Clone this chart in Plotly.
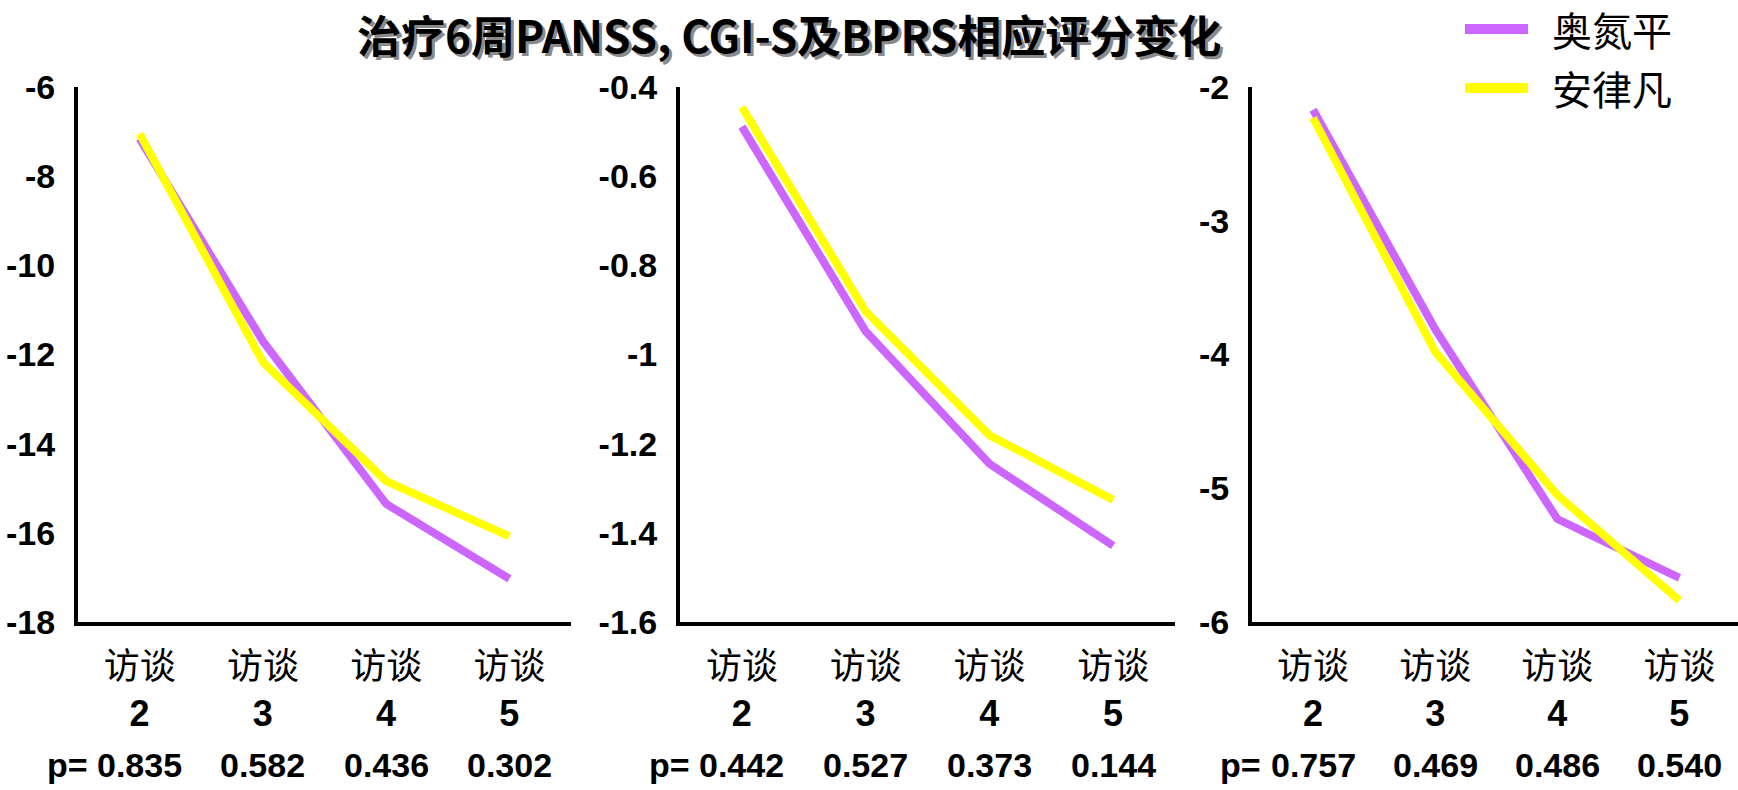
import plotly.graph_objects as go

W, H = 1738, 790

visits = ["2", "3", "4", "5"]
tick_labels = ["访谈<br><b>2</b>", "访谈<br><b>3</b>", "访谈<br><b>4</b>", "访谈<br><b>5</b>"]

series_names = ["奥氮平", "安律凡"]
series_colors = ["#CC66FF", "#FFFF00"]

# Panel 1
p1_olz = [-7.16, -11.70, -15.35, -17.03]
p1_ari = [-7.05, -12.17, -14.84, -16.08]
p1_p = ["0.835", "0.582", "0.436", "0.302"]
p1_ticks = [-6, -8, -10, -12, -14, -16, -18]
p1_ticktext = ["-6", "-8", "-10", "-12", "-14", "-16", "-18"]

# Panel 2
p2_olz = [-0.489, -0.948, -1.245, -1.429]
p2_ari = [-0.445, -0.903, -1.181, -1.326]
p2_p = ["0.442", "0.527", "0.373", "0.144"]
p2_ticks = [-0.4, -0.6, -0.8, -1.0, -1.2, -1.4, -1.6]
p2_ticktext = ["-0.4", "-0.6", "-0.8", "-1", "-1.2", "-1.4", "-1.6"]

# Panel 3
p3_olz = [-2.17, -3.81, -5.23, -5.67]
p3_ari = [-2.23, -3.98, -5.05, -5.84]
p3_p = ["0.757", "0.469", "0.486", "0.540"]
p3_ticks = [-2, -3, -4, -5, -6]
p3_ticktext = ["-2", "-3", "-4", "-5", "-6"]

title_text = "治疗6周PANSS, CGI-S及BPRS相应评分变化"

panels = [
    dict(olz=p1_olz, ari=p1_ari, p=p1_p, ticks=p1_ticks, tt=p1_ticktext, yr=[-18, -6],
         xd=[78, 571], xr=[-0.5, 3.5]),
    dict(olz=p2_olz, ari=p2_ari, p=p2_p, ticks=p2_ticks, tt=p2_ticktext, yr=[-1.6, -0.4],
         xd=[680, 1175], xr=[-0.5, 3.5]),
    dict(olz=p3_olz, ari=p3_ari, p=p3_p, ticks=p3_ticks, tt=p3_ticktext, yr=[-6, -2],
         xd=[1252, 1738], xr=[-0.5, 3.48]),
]

ytop_px, ybot_px = 87, 622
ydom = [(H - ybot_px) / H, (H - ytop_px) / H]

fig = go.Figure()
annotations = []
shapes = []
num_font = dict(family="Liberation Sans", size=34, color="black", weight="bold")

for i, pn in enumerate(panels):
    n = "" if i == 0 else str(i + 1)
    xa, ya = "x" + n, "y" + n
    for name, vals, col in zip(series_names, [pn["olz"], pn["ari"]], series_colors):
        fig.add_trace(go.Scatter(
            x=visits, y=vals, mode="lines", name=name,
            line=dict(color=col, width=8),
            xaxis=xa, yaxis=ya, showlegend=False, hoverinfo="skip"))
    xkey = "xaxis" + n
    ykey = "yaxis" + n
    fig.layout[xkey] = dict(
        domain=[pn["xd"][0] / W, pn["xd"][1] / W], anchor=ya, automargin=False,
        type="category", range=pn["xr"], tickvals=visits, ticktext=tick_labels,
        showline=True, linecolor="black", linewidth=4, showgrid=False, zeroline=False,
        ticks="", ticklabelstandoff=10,
        tickfont=dict(family="Liberation Sans, Noto Sans CJK SC", size=36, color="black"))
    fig.layout[ykey] = dict(
        domain=ydom, anchor=xa, range=pn["yr"], tickvals=pn["ticks"], ticktext=pn["tt"],
        automargin=False,
        showline=True, linecolor="black", linewidth=4, showgrid=False, zeroline=False,
        ticks="", ticklabelstandoff=12, tickfont=num_font)
    # p-values
    p_y = (H - 765) / H
    for j, pv in enumerate(pn["p"]):
        annotations.append(dict(
            x=j, xref=xa, y=p_y, yref="paper", text=pv,
            showarrow=False, xanchor="center", yanchor="middle", font=num_font))
    annotations.append(dict(
        x=0, xref=xa, y=p_y, yref="paper", text="p=",
        showarrow=False, xanchor="right", yanchor="middle", xshift=-50, font=num_font))

# legend (drawn manually to match long, thick swatches)
legend_rows_px = [29, 88]
for name, col, ypx in zip(series_names, series_colors, legend_rows_px):
    yp = (H - ypx) / H
    shapes.append(dict(type="line", xref="paper", yref="paper",
                       x0=1465 / W, x1=1528 / W, y0=yp, y1=yp,
                       line=dict(color=col, width=10)))
    annotations.append(dict(
        x=1550 / W, y=yp, xref="paper", yref="paper", text=name, showarrow=False,
        xanchor="left", yanchor="middle",
        font=dict(family="Noto Sans CJK SC", size=40, color="black")))

# title with shadow
for dx, dy, c in [(3, -3, "#8a8a8a"), (0, 0, "black")]:
    annotations.append(dict(
        x=789 / W, y=(H - 34) / H, xref="paper", yref="paper", text="<b>" + title_text + "</b>",
        showarrow=False, xanchor="center", yanchor="middle", xshift=dx, yshift=dy,
        font=dict(family="Noto Sans CJK SC", size=44, color=c)))

fig.update_layout(
    width=W, height=H,
    margin=dict(l=0, r=0, t=0, b=0, autoexpand=False),
    paper_bgcolor="white", plot_bgcolor="rgba(0,0,0,0)",
    annotations=annotations, shapes=shapes, showlegend=False,
)

fig.write_html("out.html")
